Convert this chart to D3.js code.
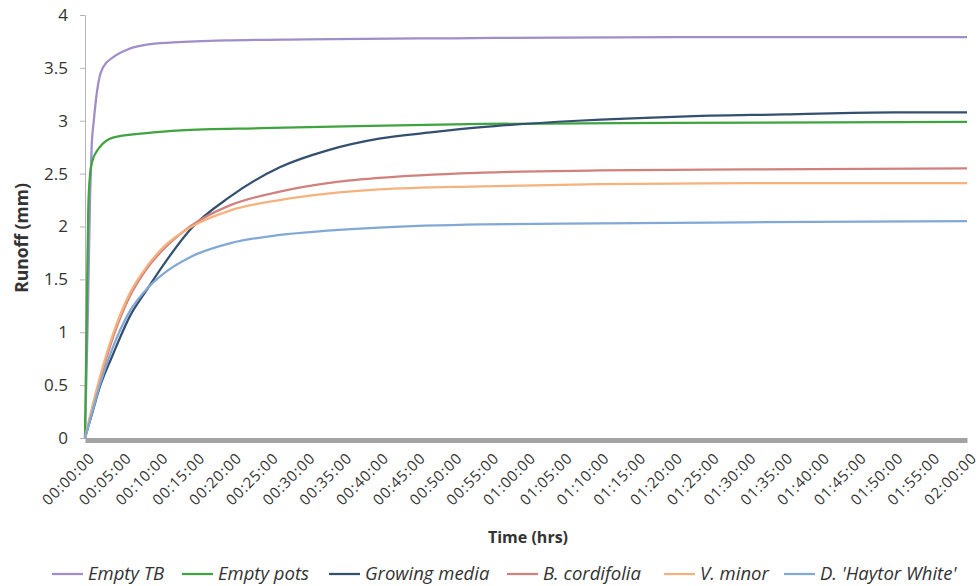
<!DOCTYPE html>
<html><head><meta charset="utf-8">
<script src="https://cdn.jsdelivr.net/npm/d3@7"></script>
<style>
body{margin:0;background:#fff;}
svg text{font-family:"Open Sans","Liberation Sans",sans-serif;fill:#333;}
</style></head>
<body><svg id="c" width="980" height="586"></svg>
<script>
// ---- data (time in minutes, runoff in mm) ----
const seriesNames = ["Empty TB","Empty pots","Growing media","B. cordifolia","V. minor","D. 'Haytor White'"];
const emptyTB_t = [0,0.4,0.7,0.9,1.2,1.6,2.0,2.5,3.8,6,8.4,12,19,30,50,80,120];
const emptyTB_v = [0,1.2,2.3,2.75,3.0,3.26,3.42,3.51,3.6,3.68,3.72,3.74,3.76,3.77,3.78,3.79,3.79];
const emptyPots_t = [0,0.3,0.45,0.7,1.0,1.5,2,3.8,8,13,24,37,54,80,120];
const emptyPots_v = [0,1.5,2.18,2.5,2.62,2.7,2.75,2.84,2.88,2.91,2.93,2.95,2.97,2.98,2.99];
const growing_t = [0,1,2,3.8,6.1,8.4,10.6,14.3,19.7,26.5,33,40,47,54,67,81,95,110,120];
const growing_v = [0,0.24,0.48,0.79,1.15,1.4,1.63,1.97,2.28,2.56,2.72,2.83,2.89,2.94,3.0,3.04,3.06,3.08,3.08];
const bcord_t = [0,1,2,3.8,6.1,8.4,10.6,14.3,19.7,26.5,33,40,54,70,90,120];
const bcord_v = [0,0.28,0.54,0.95,1.34,1.6,1.78,2.0,2.2,2.33,2.41,2.46,2.51,2.53,2.54,2.55];
const vminor_t = [0,1,2,3.8,6.1,8.4,10.6,14.3,19.7,26.5,33,40,54,70,90,120];
const vminor_v = [0,0.3,0.57,0.98,1.37,1.62,1.8,1.99,2.15,2.25,2.31,2.35,2.38,2.4,2.41,2.41];
const haytor_t = [0,1,2,3.8,6.1,8.4,10.6,14.3,19.7,26.5,33,40,54,70,90,120];
const haytor_v = [0,0.25,0.5,0.86,1.2,1.41,1.55,1.71,1.84,1.92,1.96,1.99,2.02,2.03,2.04,2.05];
const xTickMinutes = [0,5,10,15,20,25,30,35,40,45,50,55,60,65,70,75,80,85,90,95,100,105,110,115,120];
const xTickLabels = ["00:00:00","00:05:00","00:10:00","00:15:00","00:20:00","00:25:00","00:30:00","00:35:00","00:40:00","00:45:00","00:50:00","00:55:00","01:00:00","01:05:00","01:10:00","01:15:00","01:20:00","01:25:00","01:30:00","01:35:00","01:40:00","01:45:00","01:50:00","01:55:00","02:00:00"];
const yTicks = [0,0.5,1,1.5,2,2.5,3,3.5,4];
const colors = ["#a08ec8","#3fa33f","#34506f","#d0817d","#f6b27c","#82a9d5"];

const series = [
  [emptyTB_t, emptyTB_v],[emptyPots_t, emptyPots_v],[growing_t, growing_v],
  [bcord_t, bcord_v],[vminor_t, vminor_v],[haytor_t, haytor_v]
].map(([t,v],i)=>({name:seriesNames[i], color:colors[i], pts:t.map((d,j)=>[d,v[j]])}));

const svg = d3.select("#c");
const x = d3.scaleLinear().domain([0,120]).range([85,967]);
const y = d3.scaleLinear().domain([0,4]).range([438,15]);

// y axis
const ya = svg.append("g").attr("transform","translate(85,0)")
  .call(d3.axisLeft(y).tickValues(yTicks).tickSize(5).tickPadding(12).tickFormat(d3.format("")));
ya.select(".domain").attr("stroke","#b5b5b5");
ya.selectAll(".tick line").attr("stroke","#b5b5b5");
ya.selectAll(".tick text").attr("font-size","17px").attr("fill","#333");

// x axis
const xa = svg.append("g").attr("transform","translate(0,440)")
  .call(d3.axisBottom(x).tickValues(xTickMinutes).tickSize(0).tickFormat((d,i)=>xTickLabels[i]));
xa.select(".domain").attr("stroke","#a3a3a3").attr("stroke-width",5);
xa.selectAll(".tick text").attr("font-size","15px").attr("fill","#333")
  .attr("letter-spacing","0.9px")
  .attr("text-anchor","end").attr("dy","0")
  .attr("transform","translate(8,17) rotate(-45)");

// lines
const line = d3.line().x(d=>x(d[0])).y(d=>y(d[1])).curve(d3.curveMonotoneX);
svg.append("g").selectAll("path").data(series).join("path")
  .attr("d",d=>line(d.pts)).attr("fill","none")
  .attr("stroke",d=>d.color).attr("stroke-width",2.25).attr("stroke-linejoin","round");

// axis titles
svg.append("text").attr("transform","translate(28,238) rotate(-90)")
  .attr("text-anchor","middle").attr("font-size","17.5px").attr("font-weight","bold").text("Runoff (mm)");
svg.append("text").attr("x",528).attr("y",543)
  .attr("text-anchor","middle").attr("font-size","16px").attr("font-weight","bold").text("Time (hrs)");

// legend
const legX = [52,182,329,507,664,784];
const lg = svg.append("g").selectAll("g").data(series).join("g")
  .attr("transform",(d,i)=>`translate(${legX[i]},574)`);
lg.append("line").attr("x1",0).attr("x2",31).attr("stroke",d=>d.color).attr("stroke-width",2.25);
lg.append("text").attr("x",36).attr("dy","0.35em").attr("font-size","18.5px")
  .attr("font-style","italic").text(d=>d.name);
</script></body></html>
